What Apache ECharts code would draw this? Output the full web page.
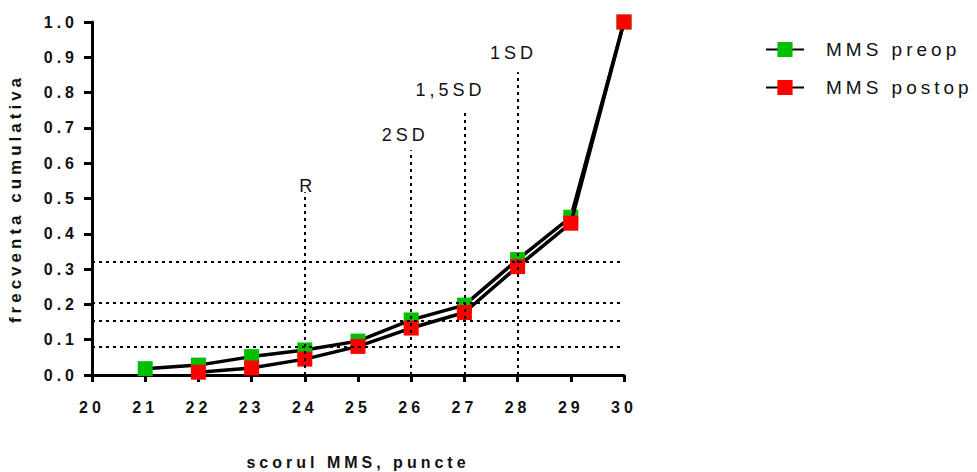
<!DOCTYPE html>
<html>
<head>
<meta charset="utf-8">
<script src="https://cdn.jsdelivr.net/npm/echarts@6/dist/echarts.min.js"></script>
<style>
  html, body { margin: 0; padding: 0; background: #fff; }
  #chart { width: 977px; height: 472px; }
  /* spaced-out lettering used throughout the figure */
  #chart text { letter-spacing: 4px; }
</style>
</head>
<body>
<div id="chart"></div>
<script>
// MMS score categories (x) and cumulative frequency per group
const scores  = [21, 22, 23, 24, 25, 26, 27, 28, 29, 30];
const preop   = [0.018, 0.028, 0.052, 0.071, 0.096, 0.156, 0.198, 0.327, 0.447, 1.0];
const postop  = [null, 0.008, 0.020, 0.045, 0.081, 0.133, 0.177, 0.307, 0.430, 1.0];

// axis ticks
const xTicks = [20, 21, 22, 23, 24, 25, 26, 27, 28, 29, 30];
const yTicks = [0, 0.1, 0.2, 0.3, 0.4, 0.5, 0.6, 0.7, 0.8, 0.9, 1.0];

// horizontal reference levels (cumulative frequency)
const refLevels = [0.08, 0.155, 0.205, 0.32];

// cut-off scores with their labels and the height of each marker line
const cutScores = [24, 26, 27, 28];
const cutLabels = ['R', '2SD', '1,5SD', '1SD'];
const cutTops   = [0.518, 0.637, 0.75, 0.858];

const FONT = '"Liberation Sans", Arial, sans-serif';
const dotted = { color: '#000', width: 2, type: [3, 4] };

const chart = echarts.init(document.getElementById('chart'), null, { renderer: 'svg' });

const markLines = [];
refLevels.forEach(v => {
  markLines.push([
    { coord: [xTicks[0], v], lineStyle: dotted, label: { show: false } },
    { coord: [xTicks[xTicks.length - 1] - 0.07, v] }
  ]);
});
// label placement tweaks for the cut-off captions
const labelShift = [3, -6, -14, -4];
const labelGap   = [-3, 6, 11, 10];
cutScores.forEach((s, i) => {
  markLines.push([
    { coord: [s, 0], lineStyle: dotted,
      label: { show: true, position: 'end', formatter: cutLabels[i], distance: labelGap[i],
               offset: [labelShift[i], 0],
               color: '#111', fontFamily: FONT, fontSize: 18 } },
    { coord: [s, cutTops[i]] }
  ]);
});

chart.setOption({
  animation: false,
  backgroundColor: '#fff',
  grid: { left: 92, right: 353, top: 22, bottom: 97, containLabel: false, outerBoundsMode: 'none' },
  legend: {
    orient: 'vertical',
    left: 760, top: 35,
    itemWidth: 38, itemHeight: 19, itemGap: 19,
    textStyle: { fontFamily: FONT, fontSize: 19, color: '#111', padding: [0, 0, 0, 17] },
    data: ['MMS preop', 'MMS postop']
  },
  xAxis: {
    type: 'value', min: xTicks[0], max: xTicks[xTicks.length - 1], interval: 1,
    name: 'scorul MMS, puncte', nameLocation: 'middle', nameGap: 79,
    nameTextStyle: { fontFamily: FONT, fontSize: 16, fontWeight: 'bold', color: '#111' },
    axisLine: { lineStyle: { color: '#000', width: 3 } },
    axisTick: { length: 7, lineStyle: { color: '#000', width: 3 } },
    axisLabel: { margin: 24, fontFamily: FONT, fontSize: 16, fontWeight: 'bold', color: '#111' },
    splitLine: { show: false }
  },
  yAxis: {
    type: 'value', min: yTicks[0], max: yTicks[yTicks.length - 1], interval: 0.1,
    name: 'frecventa cumulativa', nameLocation: 'middle', nameGap: 68,
    nameTextStyle: { fontFamily: FONT, fontSize: 17, fontWeight: 'bold', color: '#111' },
    axisLine: { show: true, lineStyle: { color: '#000', width: 3 } },
    axisTick: { show: true, length: 8, lineStyle: { color: '#000', width: 3 } },
    axisLabel: { margin: 14, fontFamily: FONT, fontSize: 16, fontWeight: 'bold', color: '#111',
                 formatter: v => v.toFixed(1) },
    splitLine: { show: false }
  },
  series: [
    {
      name: 'MMS preop', type: 'line',
      data: scores.map((s, i) => [s, preop[i]]),
      symbol: 'rect', symbolSize: 15,
      itemStyle: { color: '#00c000' },
      lineStyle: { color: '#000', width: 3.5 },
      z: 3,
      markLine: { silent: true, symbol: 'none', animation: false, data: markLines }
    },
    {
      name: 'MMS postop', type: 'line',
      data: scores.map((s, i) => [s, postop[i]]),
      connectNulls: true,
      symbol: 'rect', symbolSize: 15,
      itemStyle: { color: '#ff0000' },
      lineStyle: { color: '#000', width: 3.5 },
      z: 4
    }
  ]
});
</script>
</body>
</html>
